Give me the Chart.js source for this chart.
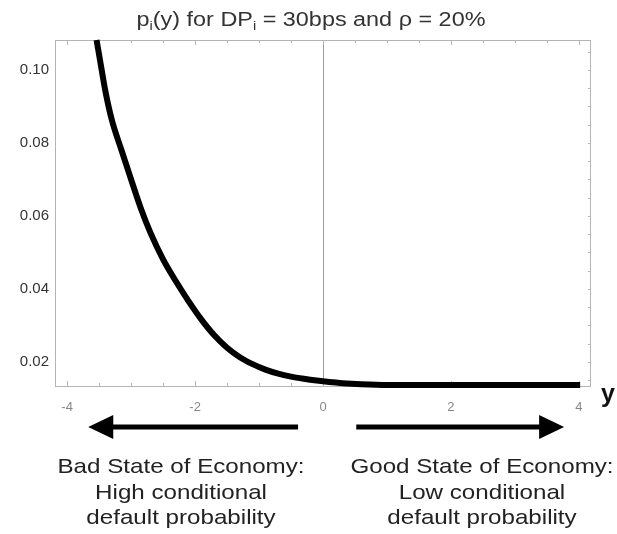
<!DOCTYPE html>
<html><head><meta charset="utf-8">
<script src="https://cdn.jsdelivr.net/npm/chart.js@4.4.0/dist/chart.umd.min.js"></script>
<style>html,body{margin:0;padding:0;background:#fff;}#wrap{width:617px;height:534px;position:relative;}</style>
</head><body><div id="wrap"><canvas id="c"></canvas></div>
<script>
// state of the economy (x axis, "y")
const stateY = [-3.54,-3.47,-3.40,-3.30,-3.15,-3.00,-2.85,-2.70,-2.50,-2.30,-2.10,-1.90,-1.70,-1.50,-1.30,-1.10,-0.90,-0.70,-0.50,-0.30,-0.10,0.10,0.30,0.60,1.00,1.50,2.50,3.50,4.02];
// conditional default probability p_i(y)
const condPD = [0.1082,0.1010,0.0940,0.0862,0.0780,0.0700,0.0622,0.0555,0.0481,0.0421,0.0366,0.0316,0.0273,0.0239,0.0213,0.0194,0.0179,0.0168,0.0160,0.0154,0.0149,0.0145,0.0142,0.0139,0.0137,0.0137,0.0137,0.0137,0.0137];
const xTickValues = [-4,-2,0,2,4];
const yTickValues = [0.02,0.04,0.06,0.08,0.10];
const titleParts = [["p",0],["i",1],["(y) for DP",0],["i",1],[" = 30bps and \u03c1 = 20%",0]];
const leftCaption = ["Bad State of Economy:","High conditional","default probability"];
const rightCaption = ["Good State of Economy:","Low conditional","default probability"];
const axisName = "y";

const FONT = '"Liberation Sans", Arial, Helvetica, sans-serif';

function stretchedText(ctx, txt, cx, cy, size, sx, color, weight) {
  ctx.save();
  ctx.font = (weight||'') + ' ' + size + 'px ' + FONT;
  ctx.fillStyle = color;
  ctx.textAlign = 'center';
  ctx.textBaseline = 'middle';
  ctx.translate(cx, cy);
  ctx.scale(sx, 1);
  ctx.fillText(txt, 0, 0);
  ctx.restore();
}

const deco = {
  id: 'deco',
  beforeDatasetsDraw(chart) {
    const {ctx, chartArea: a, scales: {x, y}} = chart;
    ctx.save();
    ctx.strokeStyle = '#b4b4b4';
    ctx.lineWidth = 1;
    ctx.strokeRect(a.left + 0.5, a.top + 0.5, a.right - a.left - 1, a.bottom - a.top);
    const x0 = Math.round(x.getPixelForValue(0)) + 0.5;
    ctx.strokeStyle = '#9a9a9a';
    ctx.beginPath(); ctx.moveTo(x0, a.top); ctx.lineTo(x0, a.bottom); ctx.stroke();
    ctx.strokeStyle = '#b4b4b4';
    for (let v = -4; v <= 4.001; v += 0.5) {
      const px = Math.round(x.getPixelForValue(v)) + 0.5;
      const major = Math.abs(v % 2) < 1e-6;
      ctx.beginPath();
      ctx.moveTo(px, a.bottom); ctx.lineTo(px, a.bottom - (major ? 5 : 3));
      ctx.moveTo(px, a.top); ctx.lineTo(px, a.top + (major ? 5 : 3));
      ctx.stroke();
    }
    for (let v = 0.015; v <= 0.1081; v += 0.005) {
      const py = Math.round(y.getPixelForValue(v)) + 0.5;
      ctx.beginPath(); ctx.moveTo(a.right, py); ctx.lineTo(a.right - 3, py); ctx.stroke();
    }
    ctx.restore();
  },
  afterDraw(chart) {
    const {ctx, chartArea: a, scales: {x}} = chart;
    ctx.save();
    const ts = 20, ss = 12.5, sx = 1.17;
    const pieces = titleParts.map(([t, sub]) => {
      ctx.font = (sub ? ss : ts) + 'px ' + FONT;
      return {t, sub, w: ctx.measureText(t).width * sx};
    });
    const total = pieces.reduce((s, p) => s + p.w, 0);
    let cx = 311 - total / 2;
    ctx.fillStyle = '#333';
    ctx.textBaseline = 'alphabetic';
    ctx.textAlign = 'left';
    for (const p of pieces) {
      ctx.save();
      ctx.font = (p.sub ? ss : ts) + 'px ' + FONT;
      ctx.translate(cx, p.sub ? 29.5 : 25.5);
      ctx.scale(sx, 1);
      ctx.fillText(p.t, 0, 0);
      ctx.restore();
      cx += p.w;
    }
    ctx.restore();
    stretchedText(ctx, axisName, a.right + 17, a.bottom + 9, 25, 1, '#111', 'bold');
    const ay = 427;
    function arrow(from, to) {
      const fx = x.getPixelForValue(from), tx = x.getPixelForValue(to);
      const dir = Math.sign(tx - fx);
      ctx.save();
      ctx.strokeStyle = '#000'; ctx.fillStyle = '#000'; ctx.lineWidth = 5;
      ctx.beginPath(); ctx.moveTo(fx, ay); ctx.lineTo(tx - dir * 20, ay); ctx.stroke();
      ctx.beginPath(); ctx.moveTo(tx, ay); ctx.lineTo(tx - dir * 25, ay - 12); ctx.lineTo(tx - dir * 25, ay + 12); ctx.closePath(); ctx.fill();
      ctx.restore();
    }
    arrow(-0.39, -3.67);
    arrow(0.52, 3.77);
    leftCaption.forEach((t, i) => stretchedText(ctx, t, 181, 467.5 + i * 25.5, 21, 1.15, '#222'));
    rightCaption.forEach((t, i) => stretchedText(ctx, t, 482, 467.5 + i * 25.5, 21, 1.15, '#222'));
  }
};

new Chart(document.getElementById('c'), {
  type: 'line',
  data: {
    datasets: [{
      data: stateY.map((v, i) => ({x: v, y: condPD[i]})),
      borderColor: '#000',
      borderWidth: 6,
      pointRadius: 0,
      cubicInterpolationMode: 'monotone',
      fill: false,
      clip: 4
    }]
  },
  options: {
    animation: false,
    responsive: true,
    maintainAspectRatio: false,
    layout: {padding: {top: 40, right: 26, left: 0, bottom: 0}},
    plugins: {legend: {display: false}, tooltip: {enabled: false}, title: {display: false}},
    scales: {
      x: {
        type: 'linear', min: -4.19, max: 4.19,
        afterFit: s => { s.height = 148; },
        afterBuildTicks: s => { s.ticks = xTickValues.map(v => ({value: v})); },
        grid: {display: false, drawTicks: false},
        border: {display: false},
        ticks: {padding: 14, maxRotation: 0, autoSkip: false, color: '#888', font: {family: FONT, size: 13}}
      },
      y: {
        type: 'linear', min: 0.01342, max: 0.1082,
        afterFit: s => { s.width = 55; },
        afterBuildTicks: s => { s.ticks = yTickValues.map(v => ({value: v})); },
        grid: {display: false, drawTicks: false},
        border: {display: false},
        ticks: {padding: 6, color: '#333', font: {family: FONT, size: 15}, callback: v => v.toFixed(2)}
      }
    }
  },
  plugins: [deco]
});
</script></body></html>
